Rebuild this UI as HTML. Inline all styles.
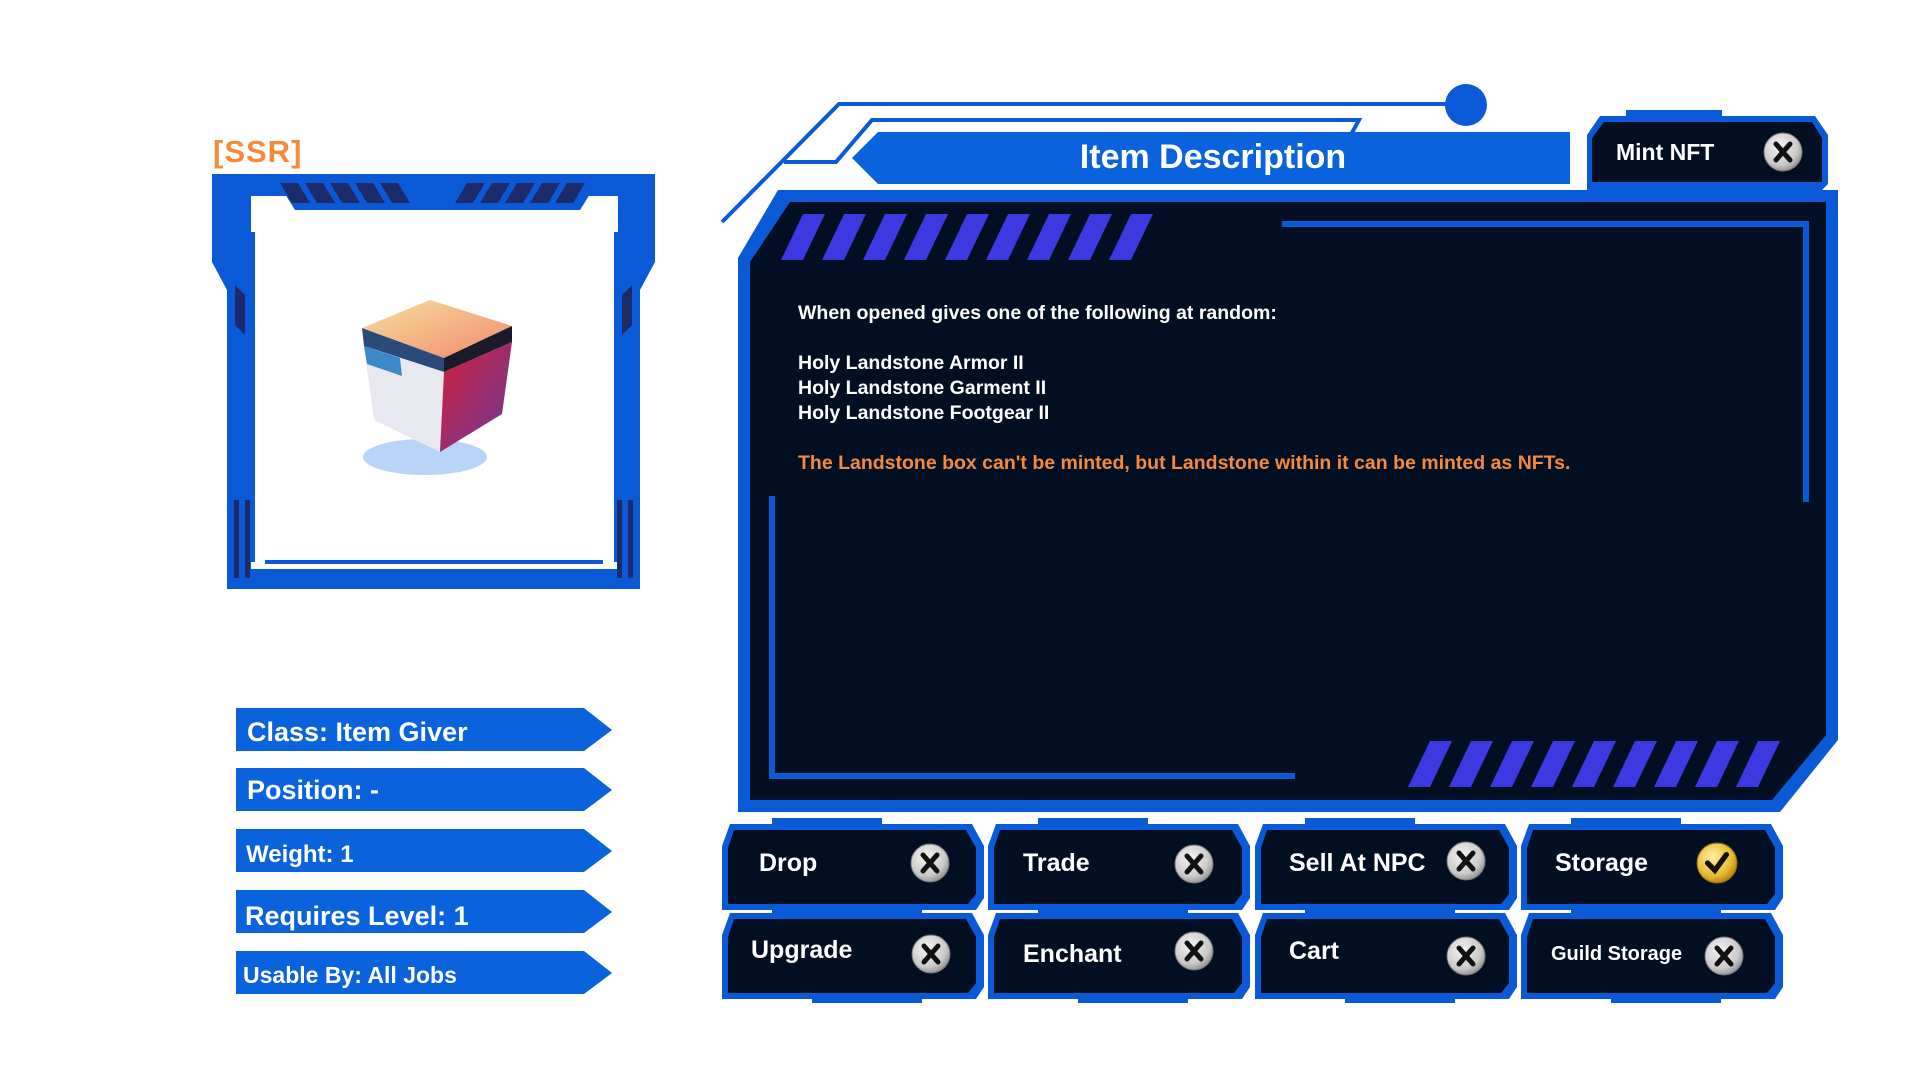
<!DOCTYPE html>
<html><head><meta charset="utf-8"><style>
html,body{margin:0;padding:0;background:#fff;width:1920px;height:1080px;overflow:hidden}
svg{display:block}
text{font-family:"Liberation Sans",sans-serif;font-weight:bold}
</style></head><body>
<svg width="1920" height="1080" viewBox="0 0 1920 1080" xmlns="http://www.w3.org/2000/svg">
<defs>
<radialGradient id="gx" cx="40%" cy="35%" r="70%"><stop offset="0" stop-color="#f4f4f4"/><stop offset="0.7" stop-color="#c9c9c9"/><stop offset="1" stop-color="#8a8a8a"/></radialGradient>
<radialGradient id="gy" cx="40%" cy="35%" r="70%"><stop offset="0" stop-color="#fff2a0"/><stop offset="0.7" stop-color="#e6b82c"/><stop offset="1" stop-color="#a67a10"/></radialGradient>
<linearGradient id="top" x1="0" y1="0" x2="1" y2="1"><stop offset="0" stop-color="#f8e0a0"/><stop offset="1" stop-color="#f08a6a"/></linearGradient>
<linearGradient id="rs" x1="0" y1="0" x2="1" y2="1"><stop offset="0" stop-color="#d21f3a"/><stop offset="1" stop-color="#6a3a9a"/></linearGradient>
<symbol id="xi" viewBox="0 0 40 40"><circle cx="20" cy="20" r="19" fill="url(#gx)" stroke="#777" stroke-width="1"/><path d="M13 12 L27 28 M27 12 L13 28" stroke="#111" stroke-width="5" stroke-linecap="round"/></symbol>
<symbol id="ci" viewBox="0 0 40 40"><circle cx="20" cy="20" r="19" fill="url(#gy)" stroke="#9a7010" stroke-width="1"/><path d="M11 20 L18 27 L29 12" stroke="#111" stroke-width="5" fill="none" stroke-linecap="round"/></symbol>
</defs>

<!-- SSR -->
<text x="213" y="162" font-size="31" fill="#f58a3c" letter-spacing="1">[SSR]</text>

<!-- left frame -->
<path d="M212 174 H655 V262 L640 290 V589 H227 V290 L212 262 Z" fill="#0a5ad8"/>
<rect x="251" y="196" width="367" height="373" fill="#fff"/>
<path d="M253 232 V562 M616 232 V562" stroke="#0a5ad8" stroke-width="4"/>
<path d="M265 562 H603" stroke="#0a5ad8" stroke-width="4"/>
<path d="M275 178 H600 L580 210 H295 Z" fill="#0a5ad8"/>
<g fill="#1d2a6a">
<path d="M280 183 h18 l12 20 h-18z M305 183 h18 l12 20 h-18z M330 183 h18 l12 20 h-18z M355 183 h18 l12 20 h-18z M380 183 h18 l12 20 h-18z"/>
<path d="M455 203 h18 l12 -20 h-18z M480 203 h18 l12 -20 h-18z M505 203 h18 l12 -20 h-18z M530 203 h18 l12 -20 h-18z M555 203 h18 l12 -20 h-18z"/>
<rect x="234" y="500" width="5" height="78"/><rect x="245" y="500" width="5" height="78"/>
<rect x="617" y="500" width="5" height="78"/><rect x="628" y="500" width="5" height="78"/>
<path d="M235 285 l10 10 v20 l-10 -10z M235 305 l10 10 v20 l-10 -10z M632 285 l-10 10 v20 l10 -10z M632 305 l-10 10 v20 l10 -10z"/>
</g>
<!-- cube -->
<ellipse cx="425" cy="457" rx="62" ry="18" fill="#b8d4f6"/>
<path d="M362 328 L430 300 L512 326 L444 358 Z" fill="url(#top)"/>
<path d="M362 328 L444 358 L444 372 L364 346 Z" fill="#2a4a7a"/>
<path d="M444 358 L512 326 L512 342 L444 372 Z" fill="#1a1a2a"/>
<path d="M364 346 L444 372 L440 452 L374 420 Z" fill="#e8e8f0"/>
<path d="M444 372 L512 342 L502 414 L440 452 Z" fill="url(#rs)"/>
<path d="M364 346 L400 358 L402 376 L367 364 Z" fill="#3a8ac8"/>

<!-- left labels -->
<g fill="#0a62dc">
<path d="M236 708 H584 L612 730 L584 751 H236Z"/>
<path d="M236 768 H584 L612 790 L584 811 H236Z"/>
<path d="M236 829 H584 L612 851 L584 872 H236Z"/>
<path d="M236 890 H584 L612 912 L584 933 H236Z"/>
<path d="M236 951 H584 L612 973 L584 994 H236Z"/>
</g>
<g fill="#fff">
<text x="247" y="741" font-size="27">Class: Item Giver</text>
<text x="247" y="799" font-size="27">Position: -</text>
<text x="246" y="862" font-size="24">Weight: 1</text>
<text x="245" y="925" font-size="27">Requires Level: 1</text>
<text x="243" y="983" font-size="23">Usable By: All Jobs</text>
</g>

<!-- deco lines -->
<path d="M722 222 L839 104 H1463" fill="none" stroke="#0a5ad8" stroke-width="4"/>
<path d="M784 162 H836 L872 120 H1359 L1348 140" fill="none" stroke="#0a5ad8" stroke-width="4"/>
<circle cx="1466" cy="105" r="21" fill="#0a5ad8"/>
<!-- title -->
<path d="M878 132 H1570 V184 H878 L852 158 Z" fill="#0a62dc"/>
<text x="1213" y="168" font-size="34" fill="#fff" text-anchor="middle">Item Description</text>
<!-- Mint NFT -->
<path d="M1600 116 H1815 L1828 135 V184 L1820 192 H1587 V135 Z" fill="#0a5ad8"/>
<rect x="1626" y="110" width="96" height="8" fill="#0a5ad8"/>
<path d="M1604 122 H1812 L1822 138 V182 H1592 V138 Z" fill="#020e22"/>
<text x="1616" y="160" font-size="23" fill="#fff">Mint NFT</text>
<use href="#xi" x="1763" y="132" width="40" height="40"/>

<!-- main panel -->
<path d="M778 190 H1838 V740 L1780 812 H738 V258 Z" fill="#0a5ad8"/>
<path d="M790 202 H1826 V735 L1772 800 H750 V262 Z" fill="#020e22"/>
<g fill="#3a3ae0">
<path d="M803 214 h22 l-22 46 h-22z M844 214 h22 l-22 46 h-22z M885 214 h22 l-22 46 h-22z M926 214 h22 l-22 46 h-22z M967 214 h22 l-22 46 h-22z M1008 214 h22 l-22 46 h-22z M1049 214 h22 l-22 46 h-22z M1090 214 h22 l-22 46 h-22z M1131 214 h22 l-22 46 h-22z M1172 214 h0 l0 0z"/>
<path d="M1430 741 h22 l-22 46 h-22z M1471 741 h22 l-22 46 h-22z M1512 741 h22 l-22 46 h-22z M1553 741 h22 l-22 46 h-22z M1594 741 h22 l-22 46 h-22z M1635 741 h22 l-22 46 h-22z M1676 741 h22 l-22 46 h-22z M1717 741 h22 l-22 46 h-22z M1758 741 h22 l-22 46 h-22z"/>
</g>
<path d="M1282 224 H1806 V502" fill="none" stroke="#0a5ad8" stroke-width="6"/>
<path d="M772 496 V776 H1295" fill="none" stroke="#0a5ad8" stroke-width="6"/>
<g font-size="19.5" fill="#fff">
<text x="798" y="319">When opened gives one of the following at random:</text>
<text x="798" y="369">Holy Landstone Armor II</text>
<text x="798" y="394">Holy Landstone Garment II</text>
<text x="798" y="419">Holy Landstone Footgear II</text>
<text x="798" y="469" fill="#f58a3c">The Landstone box can't be minted, but Landstone within it can be minted as NFTs.</text>
</g>

<!-- buttons -->
<g id="btns">
<g transform="translate(722,818)">
<path d="M8 6 H250 L262 28 V80 L254 92 H0 V28 Z" fill="#0a5ad8"/><rect x="50" y="0" width="110" height="8" fill="#0a5ad8"/><rect x="90" y="88" width="110" height="8" fill="#0a5ad8"/>
<path d="M12 12 H244 L254 30 V76 L246 86 H6 V30 Z" fill="#020e22"/>
</g>
</g>
<use href="#btns" x="266" y="0"/><use href="#btns" x="533" y="0"/><use href="#btns" x="799" y="0"/>
<use href="#btns" x="0" y="89"/><use href="#btns" x="266" y="89"/><use href="#btns" x="533" y="89"/><use href="#btns" x="799" y="89"/>
<g fill="#fff" font-size="25">
<text x="759" y="871">Drop</text>
<text x="1023" y="871">Trade</text>
<text x="1289" y="871">Sell At NPC</text>
<text x="1555" y="871">Storage</text>
<text x="751" y="958">Upgrade</text>
<text x="1023" y="962">Enchant</text>
<text x="1289" y="959">Cart</text>
<text x="1551" y="960" font-size="20">Guild Storage</text>
</g>
<use href="#xi" x="910" y="843" width="40" height="40"/>
<use href="#xi" x="1174" y="844" width="40" height="40"/>
<use href="#xi" x="1446" y="841" width="40" height="40"/>
<use href="#ci" x="1696" y="842" width="42" height="42"/>
<use href="#xi" x="911" y="934" width="40" height="40"/>
<use href="#xi" x="1174" y="931" width="40" height="40"/>
<use href="#xi" x="1446" y="936" width="40" height="40"/>
<use href="#xi" x="1704" y="936" width="40" height="40"/>
</svg>
</body></html>
